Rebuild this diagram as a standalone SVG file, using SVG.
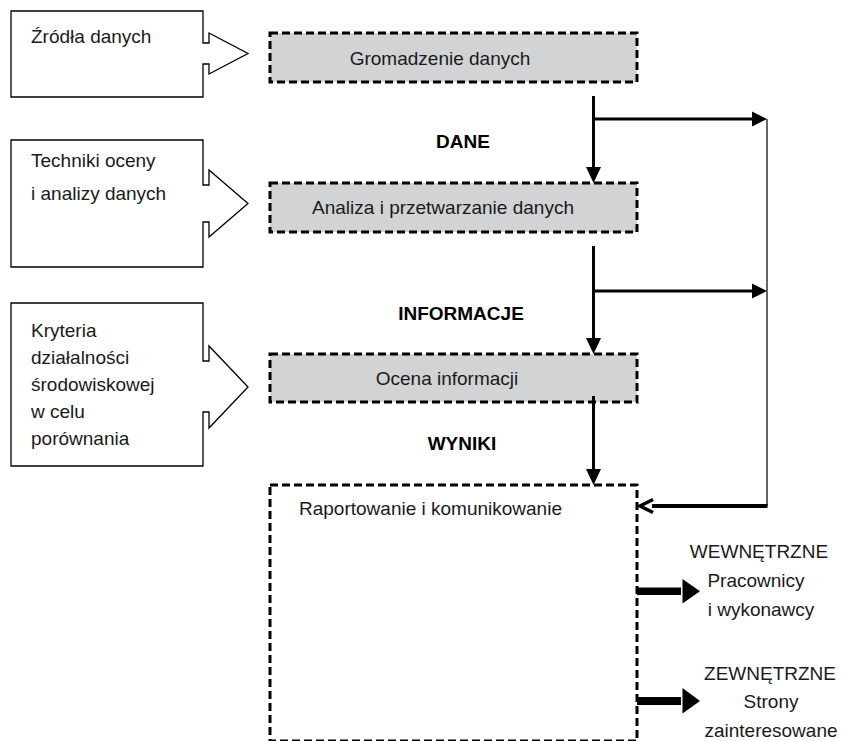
<svg xmlns="http://www.w3.org/2000/svg" width="842" height="741" viewBox="0 0 842 741">
  <defs>
    <style>
      .txt { font-family: "Liberation Sans", Arial, sans-serif; font-size: 19px; fill: #1a1a1a; }
      .mid { text-anchor: middle; }
      .bold { font-weight: bold; fill: #000; }
      .callout { fill: #fff; stroke: #000; stroke-width: 1.3; }
      .step { fill: #d1d3d4; stroke: #000; stroke-width: 3; stroke-dasharray: 8 4; }
      .report { fill: #fff; stroke: #000; stroke-width: 3; stroke-dasharray: 8 4; }
      .flow { stroke: #000; stroke-width: 3; fill: none; }
      .head { fill: #000; stroke: none; }
    </style>
  </defs>
  <rect width="842" height="741" fill="#fff"/>

  <!-- input callouts on the left -->
  <g id="zrodla">
    <path class="callout" d="M11,11 H203 V43 H209 V33 L248,53.5 L209,74 V64 H203 V97 H11 Z"/>
    <text class="txt" x="31" y="43">Źródła danych</text>
  </g>
  <g id="techniki">
    <path class="callout" d="M11,140 H203 V185 H209 V170 L248,203.5 L209,237 V222 H203 V267 H11 Z"/>
    <text class="txt" x="31" y="167">Techniki oceny</text>
    <text class="txt" x="31" y="200">i analizy danych</text>
  </g>
  <g id="kryteria">
    <path class="callout" d="M11,303 H203 V361 H209 V346 L248,387 L209,428 V412 H203 V466 H11 Z"/>
    <text class="txt" x="31" y="337">Kryteria</text>
    <text class="txt" x="31" y="364">działalności</text>
    <text class="txt" x="31" y="391">środowiskowej</text>
    <text class="txt" x="31" y="418">w celu</text>
    <text class="txt" x="31" y="445">porównania</text>
  </g>

  <!-- process steps -->
  <g id="gromadzenie">
    <rect class="step" x="270" y="33" width="367" height="49"/>
    <text class="txt mid" x="440" y="65">Gromadzenie danych</text>
  </g>
  <g id="analiza">
    <rect class="step" x="270" y="183" width="367" height="49"/>
    <text class="txt mid" x="443" y="214">Analiza i przetwarzanie danych</text>
  </g>
  <g id="ocena">
    <rect class="step" x="270" y="354" width="367" height="48"/>
    <text class="txt mid" x="447" y="385">Ocena informacji</text>
  </g>
  <g id="raportowanie">
    <rect class="report" x="270" y="485" width="367" height="256"/>
    <text class="txt" x="299" y="515">Raportowanie i komunikowanie</text>
  </g>

  <!-- flow labels -->
  <g id="etykiety">
    <text class="txt mid bold" x="463" y="148">DANE</text>
    <text class="txt mid bold" x="461" y="320">INFORMACJE</text>
    <text class="txt mid bold" x="462" y="450">WYNIKI</text>
  </g>

  <!-- audiences -->
  <g id="wewnetrzne">
    <text class="txt mid" x="759" y="558">WEWNĘTRZNE</text>
    <text class="txt mid" x="756" y="587">Pracownicy</text>
    <text class="txt mid" x="761" y="616">i wykonawcy</text>
  </g>
  <g id="zewnetrzne">
    <text class="txt mid" x="770" y="680">ZEWNĘTRZNE</text>
    <text class="txt mid" x="771" y="708">Strony</text>
    <text class="txt mid" x="771" y="737">zainteresowane</text>
  </g>

  <!-- connectors -->
  <g id="connectors">
    <!-- main downward flow -->
    <line class="flow" x1="593.5" y1="96" x2="593.5" y2="168"/>
    <polygon class="head" points="586,167 601,167 593.5,183"/>
    <line class="flow" x1="593.5" y1="246" x2="593.5" y2="339"/>
    <polygon class="head" points="586,338 601,338 593.5,354"/>
    <line class="flow" x1="593.5" y1="396" x2="593.5" y2="470"/>
    <polygon class="head" points="586,469 601,469 593.5,485"/>

    <!-- side branches to the feedback line -->
    <line class="flow" x1="593.5" y1="119" x2="753" y2="119"/>
    <polygon class="head" points="752,111.5 752,126.5 767,119"/>
    <line class="flow" x1="593.5" y1="291" x2="753" y2="291"/>
    <polygon class="head" points="752,283.5 752,298.5 767,291"/>

    <!-- feedback line into reporting -->
    <line x1="767" y1="119" x2="767" y2="506" stroke="#333" stroke-width="1.5"/>
    <line x1="767.5" y1="506" x2="652" y2="506" stroke="#000" stroke-width="4"/>
    <polyline points="653,499.5 640,506 653,512.5" fill="none" stroke="#000" stroke-width="3.5" stroke-linejoin="miter"/>

    <!-- outputs to audiences -->
    <rect x="637" y="587.5" width="44" height="7.5" fill="#000"/>
    <polygon class="head" points="682.5,579 700,591.3 682.5,603.5"/>
    <rect x="637" y="697" width="44" height="8" fill="#000"/>
    <polygon class="head" points="682.5,688 700,701 682.5,713.5"/>
  </g>
</svg>
